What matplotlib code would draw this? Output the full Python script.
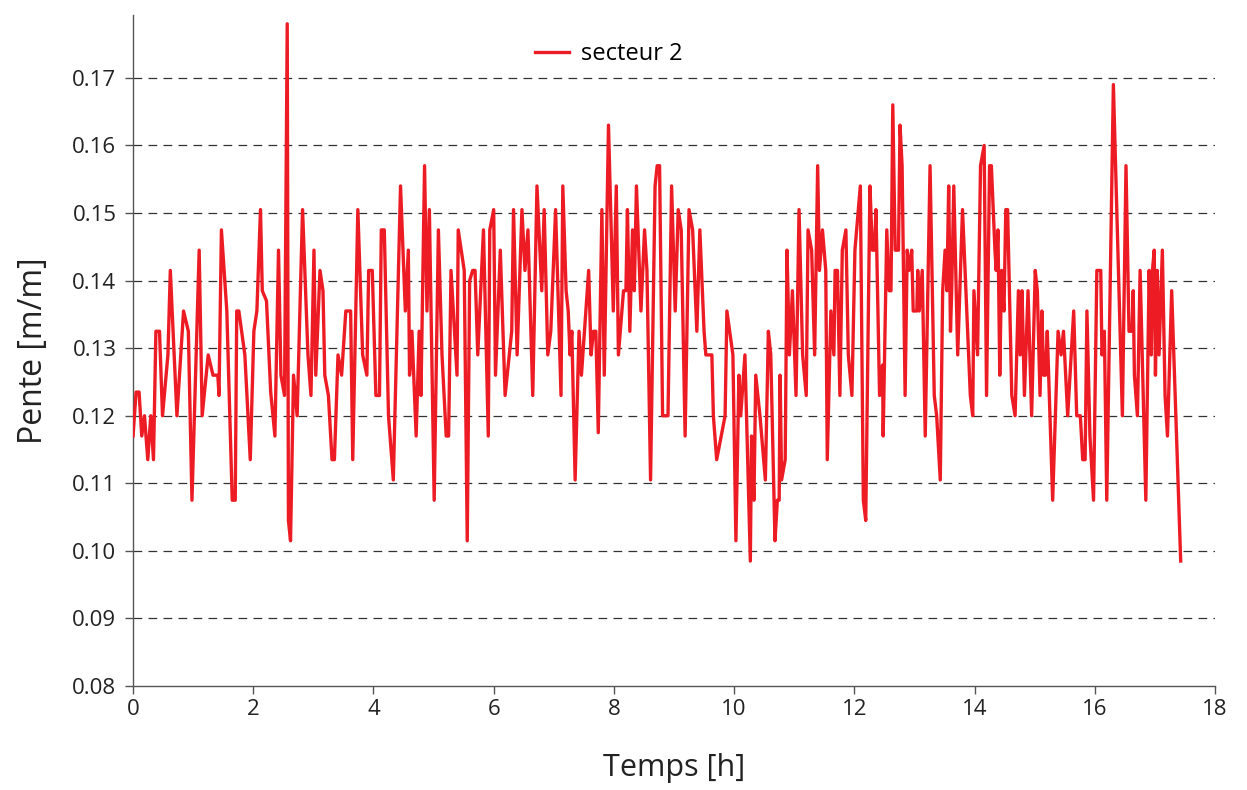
import matplotlib
matplotlib.use("Agg")
from matplotlib import pyplot as plt

temps = [
    0.00, 0.05, 0.10, 0.145, 0.19, 0.245, 0.295, 0.34, 0.38, 0.44, 0.49, 0.58, 0.62, 0.73,
    0.84, 0.92, 0.98, 1.10, 1.15, 1.25, 1.33, 1.41, 1.43, 1.47, 1.56, 1.65, 1.70, 1.725,
    1.76, 1.86, 1.95, 2.01, 2.06, 2.12, 2.15, 2.22, 2.29, 2.36, 2.42, 2.46, 2.52, 2.565,
    2.585, 2.62, 2.67, 2.73, 2.82, 2.91, 2.96, 3.01, 3.04, 3.11, 3.16, 3.19, 3.25, 3.31,
    3.35, 3.41, 3.47, 3.54, 3.62, 3.655, 3.74, 3.82, 3.89, 3.92, 3.98, 4.04, 4.10, 4.13,
    4.18, 4.25, 4.33, 4.45, 4.53, 4.58, 4.60, 4.64, 4.71, 4.76, 4.79, 4.85, 4.89, 4.93,
    5.01, 5.08, 5.14, 5.21, 5.25, 5.29, 5.39, 5.41, 5.51, 5.56, 5.60, 5.65, 5.69, 5.735,
    5.83, 5.91, 5.935, 6.00, 6.03, 6.11, 6.19, 6.30, 6.33, 6.39, 6.47, 6.52, 6.57, 6.65,
    6.72, 6.80, 6.84, 6.90, 6.95, 7.03, 7.12, 7.15, 7.205, 7.24, 7.27, 7.30, 7.355, 7.42,
    7.46, 7.58, 7.62, 7.66, 7.70, 7.74, 7.80, 7.84, 7.91, 7.99, 8.04, 8.075, 8.16, 8.20,
    8.225, 8.265, 8.31, 8.34, 8.375, 8.45, 8.51, 8.55, 8.61, 8.685, 8.72, 8.76, 8.81, 8.90,
    8.96, 9.02, 9.07, 9.12, 9.185, 9.25, 9.31, 9.38, 9.43, 9.50, 9.53, 9.63, 9.655, 9.71,
    9.85, 9.88, 9.98, 10.03, 10.08, 10.11, 10.18, 10.27, 10.29, 10.33, 10.36, 10.43, 10.52,
    10.57, 10.61, 10.68, 10.72, 10.75, 10.765, 10.79, 10.85, 10.88, 10.92, 10.97, 11.03,
    11.08, 11.14, 11.20, 11.23, 11.29, 11.34, 11.39, 11.42, 11.47, 11.525, 11.55, 11.61,
    11.66, 11.68, 11.72, 11.76, 11.80, 11.86, 11.90, 11.96, 12.01, 12.10, 12.15, 12.19,
    12.26, 12.30, 12.335, 12.36, 12.42, 12.47, 12.48, 12.54, 12.58, 12.61, 12.64, 12.68,
    12.735, 12.76, 12.795, 12.845, 12.88, 12.91, 12.955, 12.98, 13.04, 13.055, 13.08, 13.13,
    13.18, 13.26, 13.33, 13.37, 13.43, 13.47, 13.51, 13.54, 13.57, 13.60, 13.62, 13.655,
    13.72, 13.80, 13.87, 13.93, 13.97, 13.99, 14.05, 14.10, 14.16, 14.20, 14.25, 14.28,
    14.34, 14.36, 14.39, 14.42, 14.45, 14.49, 14.52, 14.55, 14.62, 14.675, 14.73, 14.76,
    14.79, 14.83, 14.89, 14.95, 15.01, 15.045, 15.09, 15.12, 15.15, 15.18, 15.21, 15.30,
    15.39, 15.44, 15.48, 15.55, 15.65, 15.70, 15.76, 15.80, 15.84, 15.87, 15.92, 15.98,
    16.035, 16.10, 16.12, 16.16, 16.20, 16.31, 16.46, 16.52, 16.57, 16.62, 16.64, 16.66,
    16.71, 16.755, 16.85, 16.905, 16.94, 16.96, 16.99, 17.01, 17.04, 17.07, 17.125, 17.17,
    17.21, 17.28, 17.43,
]
pente = [
    0.117, 0.1235, 0.1235, 0.117, 0.120, 0.1135, 0.120, 0.1135, 0.1325, 0.1325, 0.120, 0.129, 0.1415, 0.120,
    0.1355, 0.1325, 0.1075, 0.1445, 0.120, 0.129, 0.126, 0.126, 0.123, 0.1475, 0.1355, 0.1075, 0.1075, 0.1355,
    0.1355, 0.129, 0.1135, 0.1325, 0.1355, 0.1505, 0.1385, 0.137, 0.1235, 0.117, 0.1445, 0.126, 0.123, 0.178,
    0.1045, 0.1015, 0.126, 0.120, 0.1505, 0.129, 0.123, 0.1445, 0.126, 0.1415, 0.1385, 0.126, 0.123, 0.1135,
    0.1135, 0.129, 0.126, 0.1355, 0.1355, 0.1135, 0.1505, 0.129, 0.126, 0.1415, 0.1415, 0.123, 0.123, 0.1475,
    0.1475, 0.120, 0.1105, 0.154, 0.1355, 0.1445, 0.126, 0.1325, 0.117, 0.1325, 0.123, 0.157, 0.1355, 0.1505,
    0.1075, 0.1475, 0.129, 0.117, 0.117, 0.1415, 0.126, 0.1475, 0.1415, 0.1015, 0.140, 0.1415, 0.1415, 0.129,
    0.1475, 0.117, 0.1475, 0.1505, 0.126, 0.1445, 0.123, 0.1325, 0.1505, 0.129, 0.1505, 0.1415, 0.1475, 0.123,
    0.154, 0.1385, 0.1505, 0.129, 0.1325, 0.1505, 0.123, 0.154, 0.1385, 0.1355, 0.129, 0.1325, 0.1105, 0.1325,
    0.126, 0.1415, 0.129, 0.1325, 0.1325, 0.1175, 0.1505, 0.126, 0.163, 0.1355, 0.154, 0.129, 0.1385, 0.1385,
    0.1505, 0.1325, 0.1475, 0.1385, 0.154, 0.1355, 0.1475, 0.1415, 0.1105, 0.154, 0.157, 0.157, 0.120, 0.120,
    0.154, 0.1355, 0.1505, 0.1475, 0.117, 0.1505, 0.1475, 0.1325, 0.1475, 0.1325, 0.129, 0.129, 0.120, 0.1135,
    0.120, 0.1355, 0.129, 0.1015, 0.126, 0.120, 0.129, 0.0985, 0.117, 0.1075, 0.126, 0.120, 0.1105,
    0.1325, 0.129, 0.1015, 0.1075, 0.1075, 0.126, 0.1105, 0.1135, 0.1445, 0.129, 0.1385, 0.123,
    0.1505, 0.129, 0.123, 0.1475, 0.1445, 0.129, 0.157, 0.1415, 0.1475, 0.1415, 0.1135, 0.1355,
    0.129, 0.1415, 0.1415, 0.123, 0.1445, 0.1475, 0.129, 0.123, 0.1445, 0.154, 0.1075, 0.1045,
    0.154, 0.1445, 0.1445, 0.1505, 0.123, 0.1275, 0.117, 0.1475, 0.1385, 0.1385, 0.166, 0.1445,
    0.1445, 0.163, 0.157, 0.123, 0.1445, 0.1415, 0.1445, 0.1355, 0.1355, 0.1415, 0.1355, 0.1415,
    0.117, 0.157, 0.123, 0.120, 0.1105, 0.1385, 0.1445, 0.1385, 0.154, 0.1325, 0.1385, 0.154,
    0.129, 0.1505, 0.1355, 0.123, 0.120, 0.1385, 0.129, 0.157, 0.160, 0.123, 0.157, 0.157,
    0.1445, 0.1415, 0.1475, 0.126, 0.1415, 0.1355, 0.1505, 0.1505, 0.123, 0.120, 0.1385, 0.129,
    0.1385, 0.123, 0.1385, 0.120, 0.1415, 0.1385, 0.123, 0.1355, 0.126, 0.126, 0.1325, 0.1075,
    0.1325, 0.129, 0.1325, 0.120, 0.1355, 0.120, 0.120, 0.1135, 0.1135, 0.1355, 0.117, 0.1075,
    0.1415, 0.1415, 0.129, 0.1325, 0.1075, 0.169, 0.120, 0.157, 0.1325, 0.1325, 0.1385, 0.126,
    0.120, 0.1415, 0.1075, 0.1415, 0.129, 0.1415, 0.1445, 0.126, 0.1415, 0.129, 0.1445, 0.123,
    0.117, 0.1385, 0.0985,
]

x_ticks = list(range(0, 19, 2))
y_ticks = [0.08, 0.09, 0.10, 0.11, 0.12, 0.13, 0.14, 0.15, 0.16, 0.17]

plt.rcParams['font.family'] = ['Open Sans', 'DejaVu Sans']

fig = plt.figure(figsize=(12.47, 7.90), dpi=100)
ax = fig.add_axes([0.1067, 0.1316, 0.8676, 0.8494])

ax.plot(temps, pente, color='#ED1C24', linewidth=2.4, label='secteur 2', zorder=3)

ax.set_xlim(0, 18)
ax.set_ylim(0.08, 0.1793)
ax.set_xticks(x_ticks)
ax.set_yticks(y_ticks)
ax.set_yticklabels([f'{v:.2f}' for v in y_ticks])

# lignes de grille horizontales en tirets
for v in y_ticks[1:]:
    ax.axhline(v, color='#333333', linewidth=0.9, linestyle=(0, (7, 5)), zorder=1)

for side in ('top', 'right'):
    ax.spines[side].set_visible(False)
for side in ('left', 'bottom'):
    ax.spines[side].set_color('#555555')
    ax.spines[side].set_linewidth(1.0)

ax.tick_params(axis='both', colors='#555555', labelcolor='#222222', labelsize=16,
               length=6, width=1.0, direction='out')
ax.tick_params(axis='x', pad=3)
ax.tick_params(axis='y', pad=6)

ax.set_xlabel('Temps [h]', fontsize=22, color='#222222', labelpad=24)
ax.set_ylabel('Pente [m/m]', fontsize=23, color='#222222', labelpad=16)

ax.legend(loc='center left', bbox_to_anchor=(0.352, 0.942), frameon=False,
          fontsize=17, handlelength=1.45, handletextpad=0.5)

fig.savefig('out.png', dpi=100)
